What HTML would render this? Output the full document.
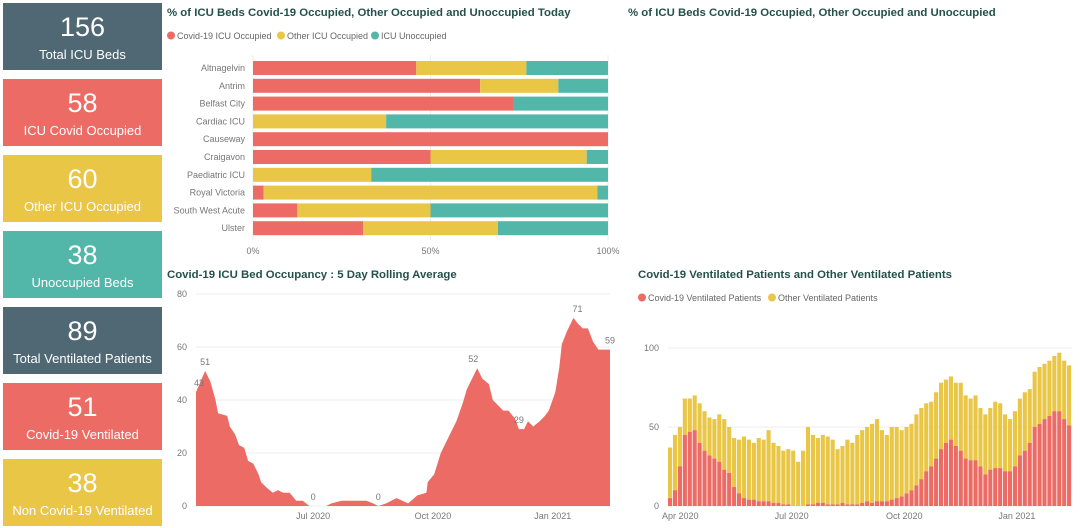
<!DOCTYPE html>
<html><head><meta charset="utf-8">
<style>
body{margin:0;width:1080px;height:528px;background:#fff;font-family:"Liberation Sans",sans-serif;overflow:hidden;position:relative}
.card{position:absolute;left:3px;width:159px;height:67px;color:#fff;text-align:center}
.card .v{font-size:27px;line-height:30px;padding-top:9px}
.card .l{font-size:13px;line-height:16px;margin-top:5px;white-space:nowrap}
svg{position:absolute;left:0;top:0}
.t{font-weight:bold;font-size:11.4px;fill:#24514c}
.lg{font-size:9px;fill:#666}
.ax{font-size:9px;fill:#777}
</style></head><body>
<div class="card" style="top:3px;background:#4f6874"><div class="v">156</div><div class="l">Total ICU Beds</div></div>
<div class="card" style="top:79px;background:#ec6b65"><div class="v">58</div><div class="l">ICU Covid Occupied</div></div>
<div class="card" style="top:155px;background:#e9c646"><div class="v">60</div><div class="l">Other ICU Occupied</div></div>
<div class="card" style="top:231px;background:#52b6a9"><div class="v">38</div><div class="l">Unoccupied Beds</div></div>
<div class="card" style="top:307px;background:#4f6874"><div class="v">89</div><div class="l">Total Ventilated Patients</div></div>
<div class="card" style="top:383px;background:#ec6b65"><div class="v">51</div><div class="l">Covid-19 Ventilated</div></div>
<div class="card" style="top:459px;background:#e9c646"><div class="v">38</div><div class="l">Non Covid-19 Ventilated</div></div>

<svg id="s" width="1080" height="528" xmlns="http://www.w3.org/2000/svg">
<text class="t" x="167" y="16">% of ICU Beds Covid-19 Occupied, Other Occupied and Unoccupied Today</text>
<text class="t" x="628" y="16">% of ICU Beds Covid-19 Occupied, Other Occupied and Unoccupied</text>
<g>
<circle cx="171" cy="35.5" r="4" fill="#ec6b65"/><text class="lg" x="177" y="39">Covid-19 ICU Occupied</text>
<circle cx="281" cy="35.5" r="4" fill="#e9c646"/><text class="lg" x="287" y="39">Other ICU Occupied</text>
<circle cx="375" cy="35.5" r="4" fill="#52b6a9"/><text class="lg" x="381" y="39">ICU Unoccupied</text>
</g>
<g id="bars"></g>
<text class="t" x="167" y="278">Covid-19 ICU Bed Occupancy : 5 Day Rolling Average</text>
<g id="occ"></g>
<text class="t" x="638" y="278">Covid-19 Ventilated Patients and Other Ventilated Patients</text>
<g>
<circle cx="642" cy="297.5" r="4" fill="#ec6b65"/><text class="lg" x="648" y="301">Covid-19 Ventilated Patients</text>
<circle cx="772" cy="297.5" r="4" fill="#e9c646"/><text class="lg" x="778" y="301">Other Ventilated Patients</text>
</g>
<g id="vent"></g>
</svg>
<script>
const NS="http://www.w3.org/2000/svg";
function mk(p,tag,a,txt){const e=document.createElementNS(NS,tag);for(const k in a)e.setAttribute(k,a[k]);if(txt!=null)e.textContent=txt;p.appendChild(e);return e;}
// ---- bar chart data ----
const hospitals=["Altnagelvin","Antrim","Belfast City","Cardiac ICU","Causeway","Craigavon","Paediatric ICU","Royal Victoria","South West Acute","Ulster"];
const covidPct=[46,64,73.5,0,100,50,0,3,12.5,31];
const otherPct=[31,22,0,37.5,0,44,33.3,94,37.5,38];
const unoccPct=[23,14,26.5,62.5,0,6,66.7,3,50,31];
const pctTicks=["0%","50%","100%"];
// ---- occupancy data ----
const occDays=[0,7,11,15,17,24,26,30,33,37,40,44,48,50,54,59,63,67,72,77,82,87,100,104,112,131,136,140,146,154,163,170,177,178,183,188,195,200,205,208,213,216,220,225,228,232,236,240,245,248,252,255,259,264,268,271,276,279,281,285,290,293,297,301,305,309,313,318];
const occVals=[43,51,47,40,35,34,30,27,23,22,17,16,12,9,7,5,6,5,5,2,2,0,0,1,2,2,1,0,1,3,1,4,5,9,12,20,27,32,39,44,49,52,48,46,40,38,36,36,33,29,29,32,30,32,34,36,43,52,61,66,71,69,67,67,62,59,59,59];
const occTicks=[0,20,40,60,80];
const occXLabels=["Jul 2020","Oct 2020","Jan 2021"];const occXDays=[90,182,274];
const occAnn=[[0,43],[7,51],[90,0],[140,0],[213,52],[248,29],[293,71],[318,59]];
// ---- ventilated data ----
const ventCovid=[5,10,25,45,47,48,40,35,32,30,28,23,21,12,8,5,4,4,3,3,3,2,2,1,1,0,0,0,1,1,2,2,1,1,1,2,1,1,1,2,3,2,3,3,3,4,5,6,8,10,13,17,22,25,30,36,40,42,38,35,30,29,29,25,20,23,24,24,22,22,25,32,35,40,50,52,55,57,60,60,55,51];
const ventTotal=[37,45,50,68,68,70,65,60,56,55,58,55,50,43,42,44,42,40,43,42,48,40,38,35,36,35,28,35,50,45,43,45,44,42,36,38,42,40,45,48,50,52,55,48,45,50,50,48,50,52,58,62,65,66,72,78,80,82,78,78,70,68,70,62,58,62,66,65,58,55,60,68,72,74,85,88,90,92,95,97,92,89];
const ventTicks=[0,50,100];
const ventXLabels=["Apr 2020","Jul 2020","Oct 2020","Jan 2021"];const ventXDays=[10,101,193,285];const ventDays=330;

// bar chart
(function(){
 const g=document.getElementById('bars');
 const x0=253,x1=608,y0=68,step=17.8,h=14;
 const xs=v=>x0+(x1-x0)*v/100;
 [0,50,100].forEach((v,i)=>{mk(g,'line',{x1:xs(v),x2:xs(v),y1:55,y2:240,stroke:'#eee'});
  const t=mk(g,'text',{class:'ax',x:xs(v),y:254,'text-anchor':'middle'},pctTicks[i]);
  
  });
 hospitals.forEach((n,i)=>{const cy=y0+i*step;
  const lb=mk(g,'text',{class:'ax',x:245,y:cy+3,'text-anchor':'end',fill:'#666'},n);
  
  
  let a=0;[[covidPct[i],'#ec6b65'],[otherPct[i],'#e9c646'],[unoccPct[i],'#52b6a9']].forEach(([v,c])=>{
   if(v>0){const r=mk(g,'rect',{x:xs(a),y:cy-h/2,width:xs(a+v)-xs(a),height:h,fill:c});
   
   }
   a+=v;});});
})();
// occupancy
(function(){
 const g=document.getElementById('occ');
 const X0=196,X1=610,Y0=506,Y1=294,D=318;
 const xs=d=>X0+(X1-X0)*d/D, ys=v=>Y0-(Y0-Y1)*v/80;
 occTicks.forEach(v=>{mk(g,'line',{x1:196,x2:610,y1:ys(v),y2:ys(v),stroke:'#eee'});
  const t=mk(g,'text',{class:'ax',x:187,y:ys(v)+3,'text-anchor':'end'},v);
  
  });
 occXLabels.forEach((l,i)=>{const t=mk(g,'text',{class:'ax',x:xs(occXDays[i]),y:519,'text-anchor':'middle'},l);
  
  });
 let d='M'+xs(occDays[0])+','+Y0;
 occDays.forEach((dd,i)=>d+=' L'+xs(dd).toFixed(1)+','+ys(occVals[i]).toFixed(1));
 d+=' L'+xs(occDays[occDays.length-1])+','+Y0+' Z';
 const p=mk(g,'path',{d:d,fill:'#ec6b65'});
 
 
 occAnn.forEach(([dd,v])=>{const t=mk(g,'text',{class:'ax',x:xs(dd)+(dd==0?3:0),y:ys(v)-6,'text-anchor':'middle',fill:'#666'},v);
  
  });
})();
// ventilated
(function(){
 const g=document.getElementById('vent');
 const X0=668,X1=1072,Y0=506,Y1=348;
 const ys=v=>Y0-(Y0-Y1)*v/100, xd=d=>X0+(X1-X0)*d/ventDays;
 ventTicks.forEach(v=>{mk(g,'line',{x1:X0,x2:X1,y1:ys(v),y2:ys(v),stroke:'#eee'});
  const t=mk(g,'text',{class:'ax',x:659,y:ys(v)+3,'text-anchor':'end'},v);
  
  });
 ventXLabels.forEach((l,i)=>{const t=mk(g,'text',{class:'ax',x:xd(ventXDays[i]),y:519,'text-anchor':'middle'},l);
  
  });
 const n=ventCovid.length,w=(X1-X0)/n;
 for(let i=0;i<n;i++){const x=X0+i*w;
  const o=mk(g,'rect',{x:x,y:ys(ventTotal[i]),width:w-0.8,height:ys(ventCovid[i])-ys(ventTotal[i]),fill:'#e9c646'});
  
  
  const c=mk(g,'rect',{x:x,y:ys(ventCovid[i]),width:w-0.8,height:Y0-ys(ventCovid[i]),fill:'#ec6b65'});
  
  }
})();
</script>
</body></html>
